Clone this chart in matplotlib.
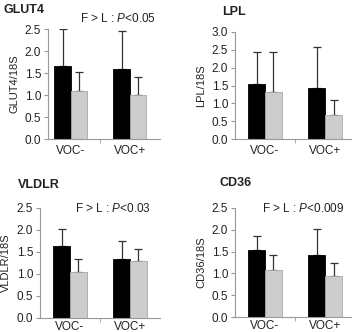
import numpy as np
import matplotlib
matplotlib.use('Agg')
import matplotlib.pyplot as plt

# ---- data ----
groups = ['VOC-', 'VOC+']

glut4_F = [1.66, 1.59]
glut4_F_err = [0.84, 0.86]
glut4_L = [1.09, 0.99]
glut4_L_err = [0.44, 0.43]

lpl_F = [1.54, 1.42]
lpl_F_err = [0.90, 1.15]
lpl_L = [1.31, 0.67]
lpl_L_err = [1.12, 0.43]

vldlr_F = [1.64, 1.35]
vldlr_F_err = [0.38, 0.39]
vldlr_L = [1.04, 1.29]
vldlr_L_err = [0.30, 0.28]

cd36_F = [1.54, 1.42]
cd36_F_err = [0.32, 0.60]
cd36_L = [1.08, 0.94]
cd36_L_err = [0.34, 0.31]

W, H = 357, 332
plt.rcParams['font.family'] = ['Liberation Sans', 'DejaVu Sans']
plt.rcParams['mathtext.fontset'] = 'custom'
plt.rcParams['mathtext.it'] = 'Liberation Sans:italic'
plt.rcParams['mathtext.rm'] = 'Liberation Sans'
fig = plt.figure(figsize=(W / 100, H / 100), dpi=100)

AX_COL = '#999999'
TXT = '#222222'


def px_axes(left, right, top, bottom):
    return fig.add_axes([left / W, 1 - bottom / H, (right - left) / W, (bottom - top) / H])


def panel(ax, title, title_xy, ylabel, F, Ferr, L, Lerr, ymax, xlim, note=None, note_xy=None, xpad=4):
    x = np.arange(len(groups))
    bw = 0.28
    ax.bar(x - bw / 2, F, bw, color='black', edgecolor='black', linewidth=0.6, zorder=2)
    ax.bar(x + bw / 2, L, bw, color='#cdcdcd', edgecolor='#a8a8a8', linewidth=0.6, zorder=2)
    ax.errorbar(x - bw / 2, F, yerr=[np.zeros(len(F)), Ferr], fmt='none',
                ecolor='#333333', elinewidth=0.9, capsize=3, capthick=0.9, zorder=1)
    ax.errorbar(x + bw / 2, L, yerr=[np.zeros(len(L)), Lerr], fmt='none',
                ecolor='#333333', elinewidth=0.9, capsize=3, capthick=0.9, zorder=1)
    ax.set_xlim(*xlim)
    ax.set_ylim(0, ymax)
    yt = np.arange(0, ymax + 0.01, 0.5)
    ax.set_yticks(yt)
    ax.set_yticklabels([f'{v:.1f}' for v in yt])
    ax.set_xticks(x)
    ax.set_xticklabels(groups)
    ax.set_xticks([0.5], minor=True)
    ax.tick_params(axis='x', which='major', length=0, labelsize=8.5, colors=TXT, pad=xpad)
    ax.tick_params(axis='x', which='minor', length=3, color=AX_COL, direction='out')
    ax.tick_params(axis='y', length=3, color=AX_COL, labelsize=8.5, labelcolor=TXT, pad=2)
    for s in ['top', 'right']:
        ax.spines[s].set_visible(False)
    for s in ['left', 'bottom']:
        ax.spines[s].set_color(AX_COL)
        ax.spines[s].set_linewidth(0.8)
    ax.set_ylabel(ylabel, fontsize=8, color=TXT, labelpad=4)
    fig.text(title_xy[0] / W, 1 - title_xy[1] / H, title, fontsize=9, fontweight='bold',
             color=TXT, ha='left', va='center')
    if note:
        fig.text(note_xy[0] / W, 1 - note_xy[1] / H, note, fontsize=8.5, color=TXT,
                 ha='left', va='center')


ax1 = px_axes(48, 160, 29, 139)
panel(ax1, 'GLUT4', (4, 10), 'GLUT4/18S', glut4_F, glut4_F_err, glut4_L, glut4_L_err,
      2.5, (-0.39, 1.51), r'F > L : $\mathit{P}$<0.05', (80, 18))

ax2 = px_axes(235, 351, 32, 139)
panel(ax2, 'LPL', (222, 12), 'LPL/18S', lpl_F, lpl_F_err, lpl_L, lpl_L_err,
      3.0, (-0.5, 1.43))

ax3 = px_axes(40, 160, 208, 318)
panel(ax3, 'VLDLR', (18, 185), 'VLDLR/18S', vldlr_F, vldlr_F_err, vldlr_L, vldlr_L_err,
      2.5, (-0.5, 1.5), r'F > L : $\mathit{P}$<0.03', (75, 208), xpad=2)

ax4 = px_axes(235, 351, 208, 317)
panel(ax4, 'CD36', (220, 183), 'CD36/18S', cd36_F, cd36_F_err, cd36_L, cd36_L_err,
      2.5, (-0.5, 1.43), r'F > L : $\mathit{P}$<0.009', (262, 208), xpad=2)

fig.savefig('out.png', dpi=100)
